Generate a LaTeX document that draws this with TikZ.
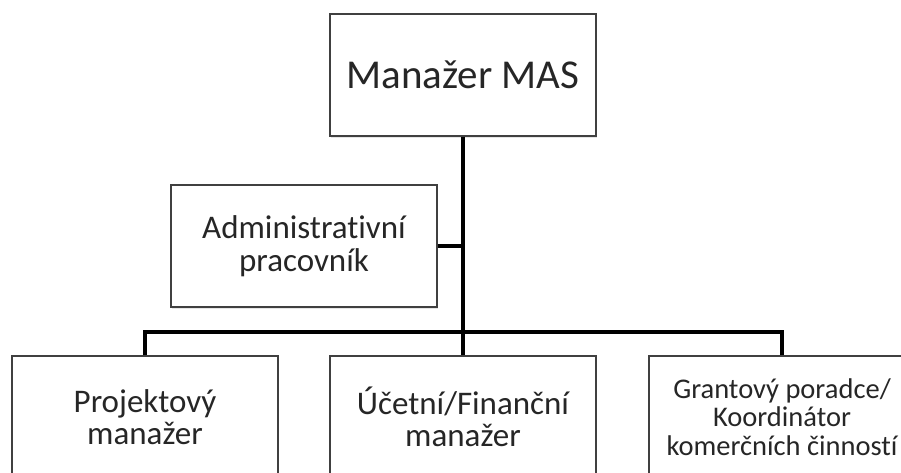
\documentclass[tikz,border=0pt]{standalone}
\usepackage{fontspec}
\setmainfont{Carlito}[Ligatures={NoCommon}]
\usetikzlibrary{shadows}

\tikzset{
  post/.style={draw=black!75, line width=1.2pt, fill=white, text=black!85,
    minimum width=266pt, minimum height=122pt, inner sep=0pt,
    align=center, font=\fontsize{33}{32.5}\selectfont,
    drop shadow={shadow xshift=1pt, shadow yshift=-1.5pt, fill=black!20}},
  link/.style={line width=4pt}
}

\begin{document}
\begin{tikzpicture}[x=1pt, y=-1pt]
    \clip (0,0) rectangle (901,472);
    \fill[white] (0,0) rectangle (901,472);
    % boxes, centres in pixel units
    \node[post, font=\fontsize{41}{42}\selectfont] (boss) at (463,75) {Manažer MAS};
    \node[post] (admin) at (304,246) {Administrativní\\pracovník};
    \node[post] (proj) at (145,417) {Projektový\\manažer};
    \node[post] (ucet) at (463,417) {Účetní/Finanční\\manažer};
    \node[post, font=\fontsize{28.5}{28.5}\selectfont] (grant) at (782,417)
      {Grantový poradce/\\Koordinátor\\komerčních činností};
    % connectors
    \coordinate (bar) at (463,332);
    \draw[link] (boss.south) -- (ucet.north);
    \draw[link] (admin.east) -- (admin.east -| boss.south);
    \draw[link] (proj.north) |- (bar) -| (grant.north);
\end{tikzpicture}
\end{document}
